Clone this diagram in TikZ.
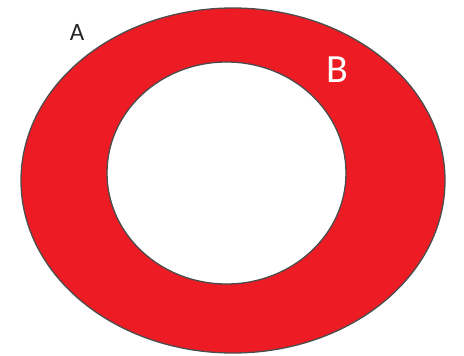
\documentclass[tikz,border=0pt]{standalone}
\usepackage{fontspec}
\setmainfont{Carlito}
\begin{document}
\begin{tikzpicture}[x=1pt,y=-1pt,
  ringline/.style={draw=black!70,line width=1.3pt},
  lbl/.style={inner sep=0pt,anchor=center}]
\useasboundingbox (0,0) rectangle (464,356);
\fill[red!85!black!0,fill={rgb,255:red,237;green,28;blue,36},even odd rule]
  (233,180.5) ellipse [x radius=212,y radius=172.5]
  (226.5,173) ellipse [x radius=119.5,y radius=111];
\draw[ringline] (233,180.5) ellipse [x radius=212,y radius=172.5];
\draw[ringline] (226.5,173) ellipse [x radius=119.5,y radius=111];
\node[lbl,font=\fontsize{25}{25}\selectfont,text=black!85] (a) at (77,32) {A};
\node[lbl,font=\fontsize{40}{40}\selectfont,text=white] (b) at (337,70) {B};
\end{tikzpicture}
\end{document}
